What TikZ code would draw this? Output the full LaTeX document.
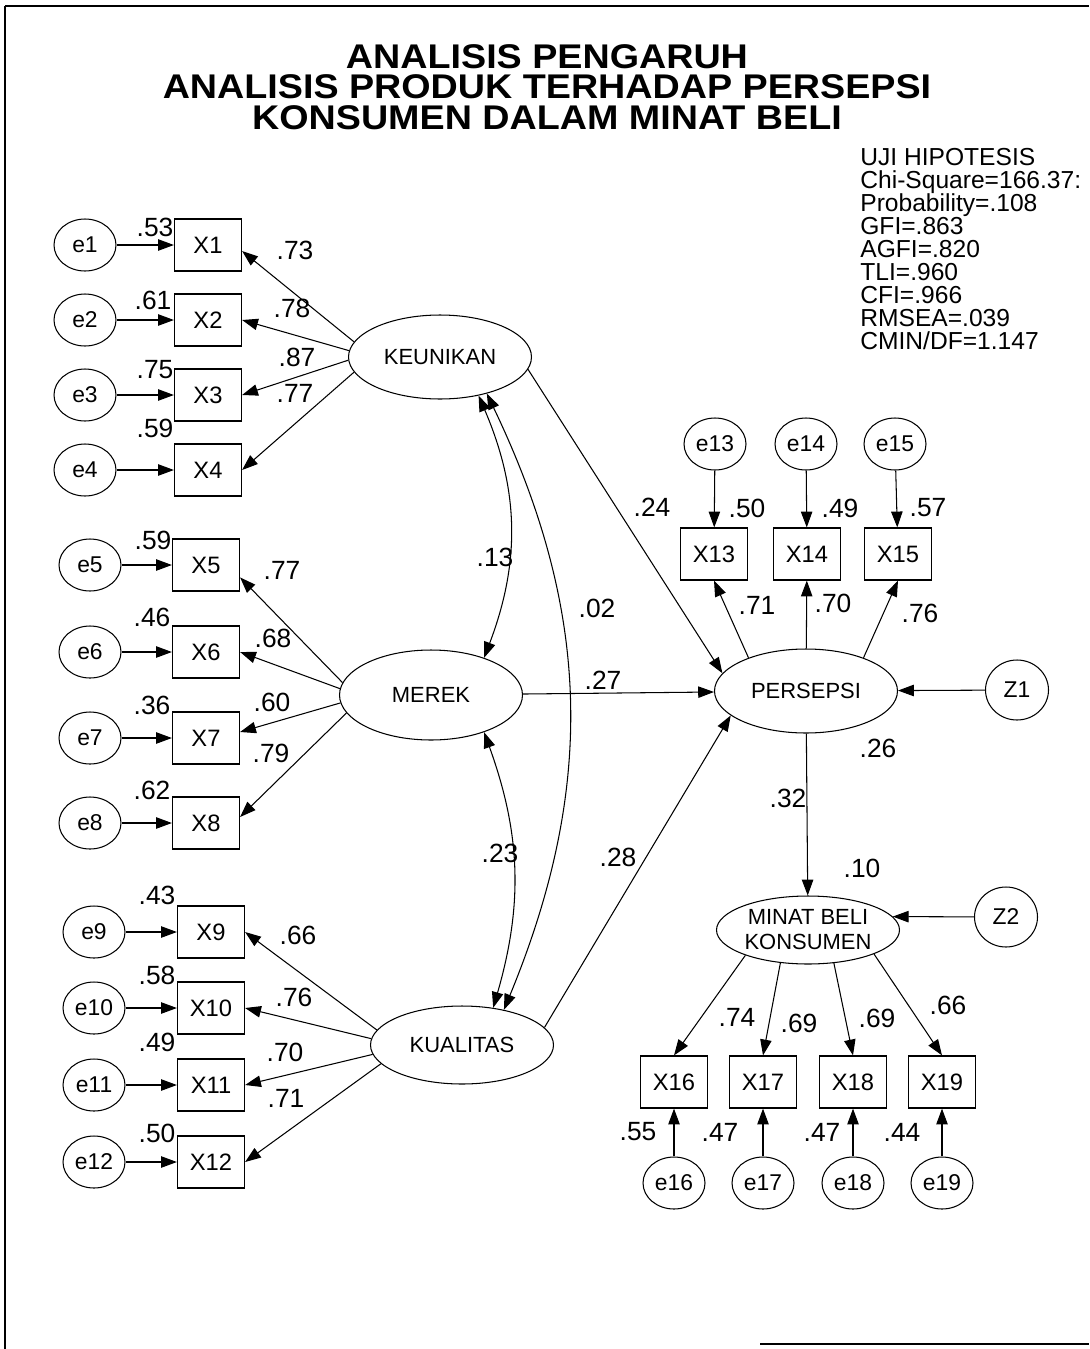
\documentclass[tikz,border=0pt]{standalone}
\usepackage{fontspec}
\setmainfont{Liberation Sans}
\usetikzlibrary{arrows.meta,shapes.geometric}

\begin{document}
\begin{tikzpicture}[
  x=0.02cm, y=-0.02cm,
  obs/.style   = {draw, line width=0.7pt, minimum width=13.4mm, minimum height=10.4mm,
                  inner sep=0pt, font=\fontsize{13.5}{15}\selectfont},
  err/.style   = {draw, ellipse, line width=0.6pt, minimum width=12.4mm, minimum height=10.4mm,
                  inner sep=0pt, font=\fontsize{13}{15}\selectfont},
  dist/.style  = {err, minimum width=12.6mm, minimum height=12mm},
  lat/.style   = {draw, ellipse, line width=0.6pt, minimum width=36.6mm, minimum height=16.8mm,
                  inner sep=0pt, align=center, font=\fontsize{12.5}{14.2}\selectfont},
  reg/.style   = {line width=0.6pt, -{Triangle[length=9pt,width=6.5pt]}},
  cov/.style   = {line width=0.6pt, {Triangle[length=9pt,width=6.5pt]}-{Triangle[length=9pt,width=6.5pt]}},
  lbl/.style   = {inner sep=0pt, font=\fontsize{15}{15}\selectfont},
  judul/.style = {align=center, inner sep=0pt, transform shape, font=\bfseries\fontsize{19.5}{17.2}\selectfont},
  stat/.style  = {align=left, inner sep=0pt, anchor=north west, font=\fontsize{14}{13.1}\selectfont},
]
  \useasboundingbox (0,0) rectangle (1089,1349);

  % scanned frame
  \draw[line width=1.4pt] (5,6) -- (1089,6);
  \draw[line width=1pt] (5,6) -- (5,1349);
  \draw[line width=1.2pt] (760,1344) -- (1089,1344);

  \begin{scope}[shift={(547,87)}, xscale=1.1]
    \node[judul] (judul) at (0,0) {ANALISIS PENGARUH\\ANALISIS PRODUK TERHADAP PERSEPSI\\KONSUMEN DALAM MINAT BELI};
  \end{scope}
  \node[stat] (uji) at (860,148) {UJI HIPOTESIS\\Chi-Square=166.37:\\Probability=.108\\GFI=.863\\AGFI=.820\\TLI=.960\\CFI=.966\\RMSEA=.039\\CMIN/DF=1.147};

  % latent variables
  \node[lat] (keu)   at (440,357)  {KEUNIKAN};
  \node[lat, minimum height=18mm] (mer) at (431,695) {MEREK};
  \node[lat, minimum height=15.6mm] (kua) at (462,1045) {KUALITAS};
  \node[lat] (pers)  at (806,691)  {PERSEPSI};
  \node[lat, minimum height=13.6mm] (minat) at (808,930) {MINAT BELI\\KONSUMEN};
  \node[dist] (z1) at (1017,690) {Z1};
  \node[dist] (z2) at (1006,917) {Z2};

  % indicators, left
  \node[err] (e1)  at (85,245)  {e1};   \node[obs] (x1)  at (208,245)  {X1};
  \node[err] (e2)  at (85,320)  {e2};   \node[obs] (x2)  at (208,320)  {X2};
  \node[err] (e3)  at (85,395)  {e3};   \node[obs] (x3)  at (208,395)  {X3};
  \node[err] (e4)  at (85,470)  {e4};   \node[obs] (x4)  at (208,470)  {X4};
  \node[err] (e5)  at (90,565)  {e5};   \node[obs] (x5)  at (206,565)  {X5};
  \node[err] (e6)  at (90,652)  {e6};   \node[obs] (x6)  at (206,652)  {X6};
  \node[err] (e7)  at (90,738)  {e7};   \node[obs] (x7)  at (206,738)  {X7};
  \node[err] (e8)  at (90,823)  {e8};   \node[obs] (x8)  at (206,823)  {X8};
  \node[err] (e9)  at (94,932)  {e9};   \node[obs] (x9)  at (211,932)  {X9};
  \node[err] (e10) at (94,1008) {e10};  \node[obs] (x10) at (211,1008) {X10};
  \node[err] (e11) at (94,1085) {e11};  \node[obs] (x11) at (211,1085) {X11};
  \node[err] (e12) at (94,1162) {e12};  \node[obs] (x12) at (211,1162) {X12};

  % indicators, right
  \node[err] (e13) at (715,444)  {e13}; \node[obs] (x13) at (714,554)  {X13};
  \node[err] (e14) at (806,444)  {e14}; \node[obs] (x14) at (807,554)  {X14};
  \node[err] (e15) at (895,444)  {e15}; \node[obs] (x15) at (898,554)  {X15};
  \node[obs] (x16) at (674,1082) {X16}; \node[err] (e16) at (674,1183) {e16};
  \node[obs] (x17) at (763,1082) {X17}; \node[err] (e17) at (763,1183) {e17};
  \node[obs] (x18) at (853,1082) {X18}; \node[err] (e18) at (853,1183) {e18};
  \node[obs] (x19) at (942,1082) {X19}; \node[err] (e19) at (942,1183) {e19};

  % error terms
  \draw[reg] (e1) -- (x1);   \draw[reg] (e2) -- (x2);   \draw[reg] (e3) -- (x3);
  \draw[reg] (e4) -- (x4);   \draw[reg] (e5) -- (x5);   \draw[reg] (e6) -- (x6);
  \draw[reg] (e7) -- (x7);   \draw[reg] (e8) -- (x8);   \draw[reg] (e9) -- (x9);
  \draw[reg] (e10) -- (x10); \draw[reg] (e11) -- (x11); \draw[reg] (e12) -- (x12);
  \draw[reg] (e13) -- (x13); \draw[reg] (e14) -- (x14); \draw[reg] (e15) -- (x15);
  \draw[reg] (e16) -- (x16); \draw[reg] (e17) -- (x17); \draw[reg] (e18) -- (x18);
  \draw[reg] (e19) -- (x19);
  \draw[reg] (z1) -- (pers);
  \draw[reg] (z2) -- (minat.9);

  % loadings
  \draw[reg] (keu.170) -- (x1.-10);
  \draw[reg] (keu.176) -- (x2.east);
  \draw[reg] (keu.182) -- (x3.east);
  \draw[reg] (keu.190) -- (x4.east);
  \draw[reg] (mer.172) -- (x5.-20);
  \draw[reg] (mer.176) -- (x6.east);
  \draw[reg] (mer.185) -- (x7.10);
  \draw[reg] (mer.192) -- (x8.10);
  \draw[reg] (kua.170) -- (x9.east);
  \draw[reg] (kua.176) -- (x10.east);
  \draw[reg] (kua.186) -- (x11.east);
  \draw[reg] (kua.193) -- (x12.east);
  \draw[reg] (pers.150) -- (x13.south);
  \draw[reg] (pers) -- (x14);
  \draw[reg] (pers.30) -- (x15.south);
  \draw[reg] (minat.202) -- (x16.north);
  \draw[reg] (minat.230) -- (x17.north);
  \draw[reg] (minat.-52) -- (x18.north);
  \draw[reg] (minat.-20) -- (x19.north);

  % structural paths
  \draw[reg] (keu.-8) -- (pers.168);
  \draw[reg] (mer) -- (pers);
  \draw[reg] (kua.12) -- (pers.198);
  \draw[reg] (pers) -- (minat);

  % covariances
  \draw[cov] (keu.-45) to[bend left=22] (mer.35);
  \draw[cov] (keu.-38) to[bend left=24] (kua.40);
  \draw[cov] (mer.-35) to[bend left=18] (kua.50);

  % estimates
  \node[lbl] (sq1)  at (155,227)  {.53};  \node[lbl] (ld1)  at (295,250)  {.73};
  \node[lbl] (sq2)  at (153,300)  {.61};  \node[lbl] (ld2)  at (292,308)  {.78};
  \node[lbl] (sq3)  at (155,370)  {.75};  \node[lbl] (ld3)  at (297,357)  {.87};
  \node[lbl] (sq4)  at (155,428)  {.59};  \node[lbl] (ld4)  at (295,393)  {.77};
  \node[lbl] (sq5)  at (153,540)  {.59};  \node[lbl] (ld5)  at (282,570)  {.77};
  \node[lbl] (sq6)  at (152,617)  {.46};  \node[lbl] (ld6)  at (273,638)  {.68};
  \node[lbl] (sq7)  at (152,705)  {.36};  \node[lbl] (ld7)  at (272,702)  {.60};
  \node[lbl] (sq8)  at (152,790)  {.62};  \node[lbl] (ld8)  at (271,753)  {.79};
  \node[lbl] (sq9)  at (157,895)  {.43};  \node[lbl] (ld9)  at (298,935)  {.66};
  \node[lbl] (sq10) at (157,975)  {.58};  \node[lbl] (ld10) at (294,997)  {.76};
  \node[lbl] (sq11) at (157,1042) {.49};  \node[lbl] (ld11) at (285,1052) {.70};
  \node[lbl] (sq12) at (157,1133) {.50};  \node[lbl] (ld12) at (286,1098) {.71};
  \node[lbl] (sq13) at (747,508)  {.50};  \node[lbl] (ld13) at (757,605)  {.71};
  \node[lbl] (sq14) at (840,508)  {.49};  \node[lbl] (ld14) at (833,603)  {.70};
  \node[lbl] (sq15) at (928,508)  {.57};  \node[lbl] (ld15) at (920,613)  {.76};
  \node[lbl] (sq16) at (638,1132) {.55};  \node[lbl] (ld16) at (737,1017) {.74};
  \node[lbl] (sq17) at (720,1132) {.47};  \node[lbl] (ld17) at (799,1023) {.69};
  \node[lbl] (sq18) at (822,1132) {.47};  \node[lbl] (ld18) at (877,1018) {.69};
  \node[lbl] (sq19) at (902,1132) {.44};  \node[lbl] (ld19) at (948,1005) {.66};

  \node[lbl] (kv1) at (495,557) {.13};
  \node[lbl] (kv2) at (597,608) {.02};
  \node[lbl] (kv3) at (500,853) {.23};
  \node[lbl] (pt1) at (652,507) {.24};
  \node[lbl] (pt2) at (603,680) {.27};
  \node[lbl] (pt3) at (618,857) {.28};
  \node[lbl] (pt4) at (788,798) {.32};
  \node[lbl] (sqp) at (878,748) {.26};
  \node[lbl] (sqm) at (862,868) {.10};
\end{tikzpicture}
\end{document}
